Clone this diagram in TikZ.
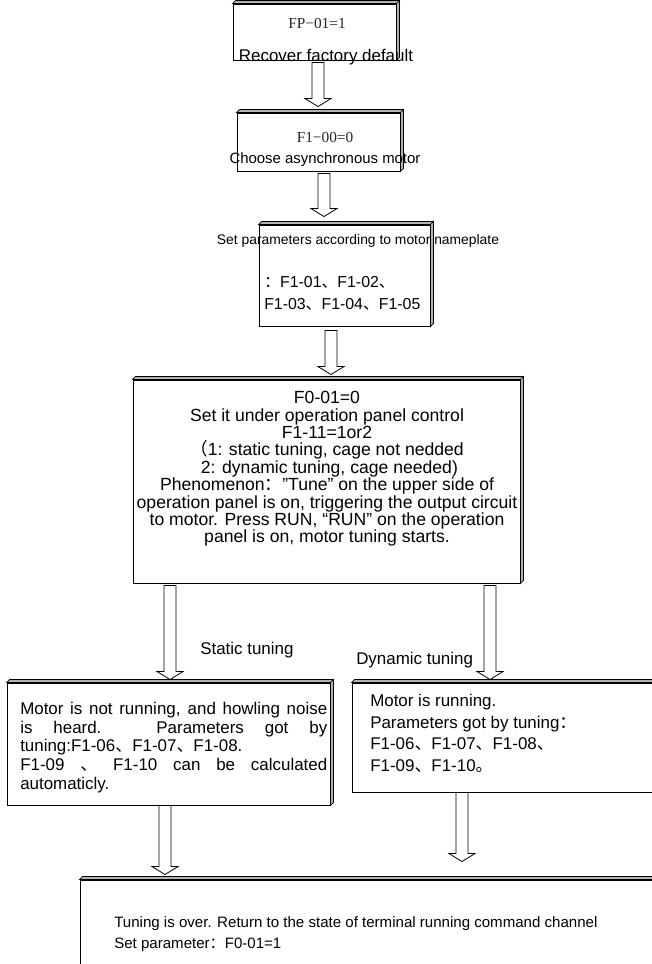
\documentclass[tikz,border=0pt]{standalone}
\usepackage{fontspec}
\setmainfont{Liberation Sans}
\newfontfamily\serf{Liberation Serif}
\newfontfamily\cjk{Noto Sans CJK SC}
\usetikzlibrary{fit,calc}
\newcommand{\cj}[1]{{\cjk #1}}
\newcommand{\fl}{\rule{0pt}{12pt}}
\newcommand{\blockarrow}[5]{%
  \path let \p1=(#2.south), \p2=(#3.north) in
    (#1*0.75pt,\y1) coordinate (as) (#1*0.75pt,\y2) coordinate (ae);
  \draw[harrow] ([shift={(-6,#4)}]as) -- ([shift={(6,#4)}]as)
    -- ([shift={(6,-#5-8)}]ae) -- ([shift={(13,-#5-8)}]ae)
    -- ([shift={(0,-#5)}]ae) -- ([shift={(-13,-#5-8)}]ae)
    -- ([shift={(-6,-#5-8)}]ae) -- cycle;}
\begin{document}
\begin{tikzpicture}[x=0.75pt,y=-0.75pt,
  box/.style={draw=black, line width=0.7pt, fill=white, inner sep=0pt},
  face/.style={fill=gray!60, draw=black, line width=0.5pt},
  harrow/.style={draw=black, line width=0.6pt, fill=white},
  txt/.style={inner sep=0pt, font=\fontsize{12.7}{15}\selectfont},
  sertxt/.style={inner sep=0pt, text=black!85, font=\fontsize{11.5}{14}\selectfont\serf},
]
\useasboundingbox (0,0) rectangle (652,964);
\clip (0,0) rectangle (652,964);

% boxes
\node[box, fit={(233,4) (396,60)}] (b1) {};
\node[box, fit={(237,113) (400,171)}] (b2) {};
\node[box, fit={(259,225) (430,326)}] (b3) {};
\node[box, fit={(133,380) (520,583)}] (b4) {};
\node[box, fit={(7,683) (330,805)}] (b5) {};
\node[box, fit={(352,683) (700,792)}] (b6) {};
\node[box, fit={(80,880) (700,1000)}] (b7) {};
\foreach \n in {b1,b2,b3,b4,b5,b6,b7}{
  \filldraw[face] (\n.north west) -- ([shift={(3,-3)}]\n.north west) -- ([shift={(3,-3)}]\n.north east) -- (\n.north east) -- cycle;
  \filldraw[face] (\n.north east) -- ([shift={(3,-3)}]\n.north east) -- ([shift={(3,-3)}]\n.south east) -- (\n.south east) -- cycle;
}

% arrows
\blockarrow{318}{b1}{b2}{2}{6}
\blockarrow{324}{b2}{b3}{2}{8}
\blockarrow{331}{b3}{b4}{4}{5}
\blockarrow{170}{b4}{b5}{2}{3}
\blockarrow{490}{b4}{b6}{2}{3}
\blockarrow{165}{b5}{b7}{0}{5}
\blockarrow{462}{b6}{b7}{0}{18}

% texts
\node[sertxt, anchor=base] (t1a) at (317,28) {FP−01=1};
\node[txt, anchor=base] (t1b) at (326,61) {Recover factory default};
\node[sertxt, anchor=base] (t2a) at (325,142) {F1−00=0};
\node[txt, anchor=base, font=\fontsize{11.2}{13}\selectfont] (t2b) at (325,163) {Choose asynchronous motor};
\node[txt, anchor=base, font=\fontsize{10.4}{12}\selectfont] (t3a) at (358,244) {Set parameters according to motor nameplate};
\node[txt, anchor=north west, align=left, font=\fontsize{11.9}{16.5}\selectfont] (t3b) at (264,271)
  {\fl\cj{：}F1-01\cj{、}F1-02\cj{、}\\F1-03\cj{、}F1-04\cj{、}F1-05};
\node[txt, anchor=north, align=center, font=\fontsize{13.2}{13.05}\selectfont] (t4) at (327,387.5)
  {\fl F0-01=0\\
   Set it under operation panel control\\
   F1-11=1or2\\
   \cj{（}1: static tuning, cage not nedded\\
   \ 2: dynamic tuning, cage needed)\\
   Phenomenon\cj{：}”Tune” on the upper side of\\
   operation panel is on, triggering the output circuit\\
   to motor. Press RUN, “RUN” on the operation\\
   panel is on, motor tuning starts.};
\node[txt, anchor=base west] (l1) at (200,654) {Static tuning};
\node[txt, anchor=base west] (l2) at (356,664) {Dynamic tuning};
\node[txt, anchor=north west, align=left, font=\fontsize{12.7}{14.06}\selectfont] (t5) at (20,698)
  {\fl\makebox[230.25pt][s]{Motor is not running, and howling noise}\\
   \makebox[230.25pt][s]{is heard. Parameters got by}\\
   tuning:F1-06\cj{、}F1-07\cj{、}F1-08.\\
   \makebox[230.25pt][s]{F1-09 \cj{、} F1-10 can be calculated}\\
   automaticly.};
\node[txt, anchor=north west, align=left, font=\fontsize{12.7}{16.3}\selectfont] (t6) at (370,690)
  {\fl Motor is running.\\
   Parameters got by tuning\cj{：}\\
   F1-06\cj{、}F1-07\cj{、}F1-08\cj{、}\\
   F1-09\cj{、}F1-10\cj{。}};
\node[txt, anchor=north west, align=left, font=\fontsize{11.3}{15.75}\selectfont] (t7) at (114,911)
  {\fl Tuning is over. Return to the state of terminal running command channel\\
   Set parameter\cj{：}F0-01=1};
\end{tikzpicture}
\end{document}
